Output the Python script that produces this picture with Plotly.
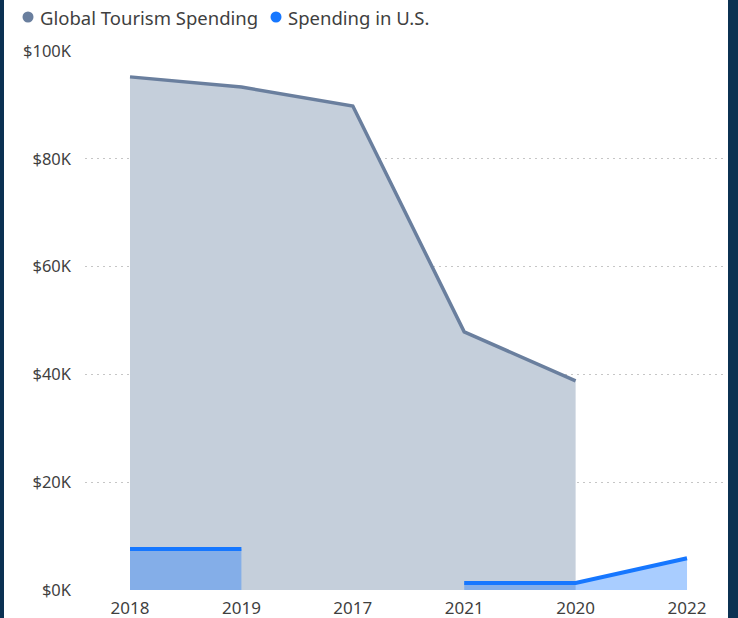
import plotly.graph_objects as go

# Spending data by year (thousands of USD), in display order
years = ["2018", "2019", "2017", "2021", "2020", "2022"]
global_spending = [95.2, 93.3, 89.8, 47.9, 38.8, None]
us_spending = [7.6, 7.6, None, 1.3, 1.3, 5.9]

y_ticks = [0, 20, 40, 60, 80, 100]
y_tick_text = ["$0K", "$20K", "$40K", "$60K", "$80K", "$100K"]

W, H = 738, 618
L, R, T, B = 85, 12, 51, 28
NAVY = "#0B3152"
GLOBAL_LINE = "#6A7F9E"
GLOBAL_FILL = "#C5CFDB"
US_LINE = "#1677FF"
US_FILL = "rgba(22,119,255,0.37)"
TEXT = "#3F3F3F"
FONT = "Noto Sans, sans-serif"


def runs(xs, ys):
    """Split a series into contiguous runs of non-missing values."""
    out, cur = [], []
    for x, y in zip(xs, ys):
        if y is None:
            if cur:
                out.append(cur)
            cur = []
        else:
            cur.append((x, y))
    if cur:
        out.append(cur)
    return out


fig = go.Figure()


def add_area(xs, ys, name, line, fill, width):
    for seg in runs(xs, ys):
        fig.add_trace(go.Scatter(
            x=[p[0] for p in seg], y=[p[1] for p in seg], name=name,
            mode="lines", line=dict(color=line, width=width),
            fill="tozeroy", fillcolor=fill,
            showlegend=False, hoverinfo="x+y",
        ))


add_area(years, global_spending, "Global Tourism Spending", GLOBAL_LINE, GLOBAL_FILL, 3.5)
add_area(years, us_spending, "Spending in U.S.", US_LINE, US_FILL, 4)

pw = W - L - R
ph = H - T - B


def px_x(p):
    return (p - L) / pw


def px_y(p):
    return (H - B - p) / ph


# navy frame strips at the sides of the card
fig.add_shape(type="rect", xref="paper", yref="paper",
              x0=px_x(-5), x1=px_x(4), y0=px_y(H + 5), y1=px_y(-5),
              fillcolor=NAVY, line_width=0, layer="above")
fig.add_shape(type="rect", xref="paper", yref="paper",
              x0=px_x(728), x1=px_x(W + 5), y0=px_y(H + 5), y1=px_y(-5),
              fillcolor=NAVY, line_width=0, layer="above")

# legend: coloured dots followed by series names
legend_items = [
    ("Global Tourism Spending", GLOBAL_LINE, 28, 40),
    ("Spending in U.S.", US_LINE, 276, 288),
]
for label, color, dot_cx, text_x in legend_items:
    fig.add_shape(type="circle", xref="paper", yref="paper",
                  xsizemode="pixel", ysizemode="pixel",
                  xanchor=px_x(dot_cx), yanchor=px_y(17),
                  x0=-5.5, x1=5.5, y0=-5.5, y1=5.5,
                  fillcolor=color, line_width=0, layer="above")
    fig.add_annotation(
        xref="paper", yref="paper", x=px_x(text_x - 2), y=px_y(17),
        xanchor="left", yanchor="middle", showarrow=False,
        text=label, font=dict(family=FONT, size=18.5, color=TEXT),
    )

fig.update_layout(
    width=W, height=H,
    margin=dict(l=L, r=R, t=T, b=B, pad=0, autoexpand=False),
    paper_bgcolor="white", plot_bgcolor="white",
    font=dict(family=FONT, size=16, color=TEXT),
    showlegend=False,
    xaxis=dict(
        type="category", categoryorder="array", categoryarray=years,
        range=[-0.404, 5.35], showgrid=False, zeroline=False,
        showline=False, ticks="", ticklabelstandoff=6, automargin=False,
        tickfont=dict(size=17, color=TEXT),
    ),
    yaxis=dict(
        range=[0, 100], tickvals=y_ticks, ticktext=y_tick_text,
        showgrid=True, gridcolor="#C6C6C6", griddash="2px,4px", gridwidth=1,
        zeroline=False, showline=False, ticks="", ticklabelstandoff=13,
        automargin=False, tickfont=dict(size=16.5, color=TEXT),
    ),
)

fig.write_html("out.html")
